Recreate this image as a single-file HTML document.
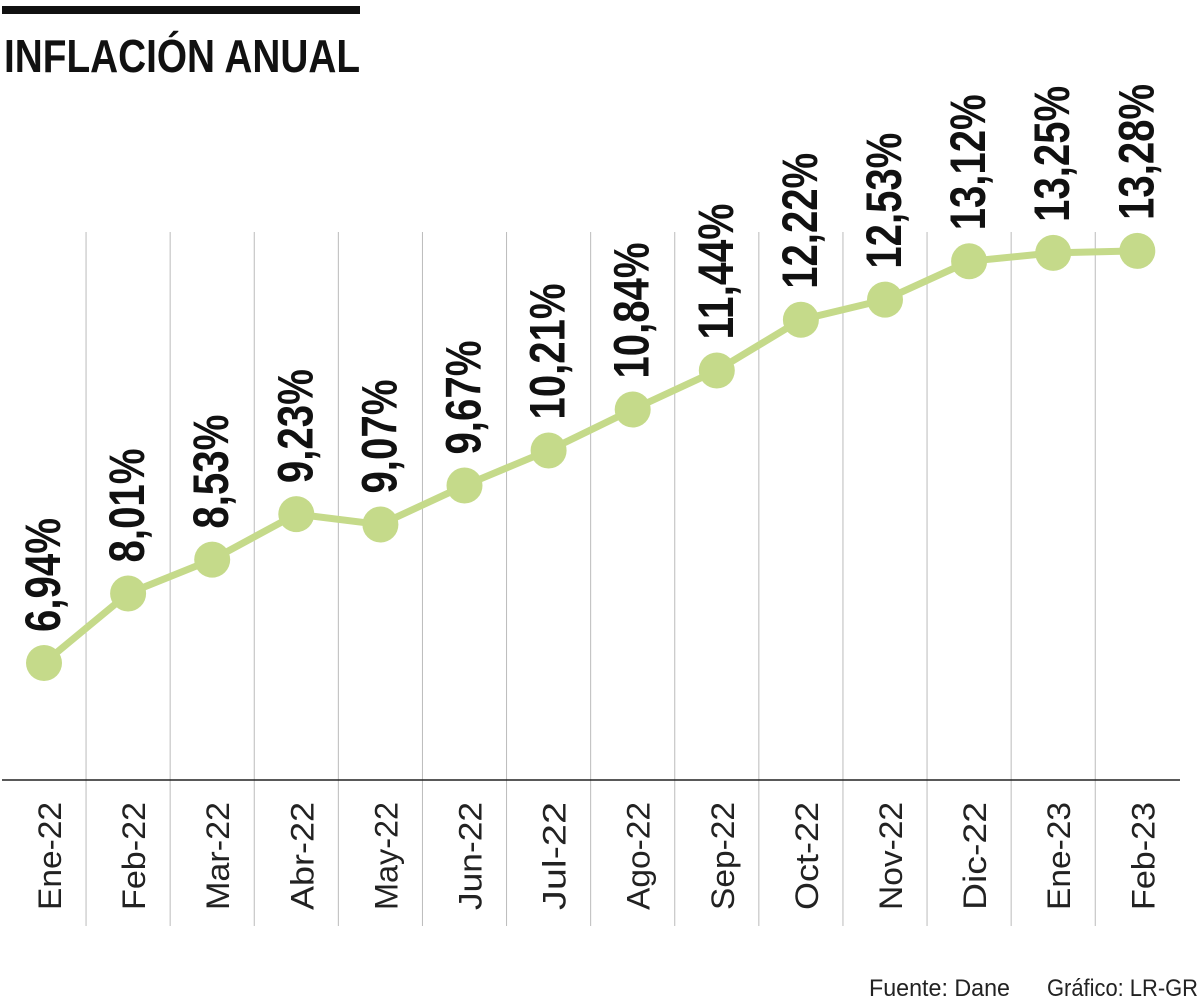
<!DOCTYPE html>
<html><head><meta charset="utf-8"><style>
html,body{margin:0;padding:0;background:#fff;}
svg{display:block;font-family:"Liberation Sans",sans-serif;}
</style></head><body>
<svg id="chart" width="1200" height="1001" viewBox="0 0 1200 1001">
<rect x="2" y="6" width="358" height="8" fill="#111"/>
<text x="4" y="72" font-size="46" font-weight="bold" fill="#111" textLength="356" lengthAdjust="spacingAndGlyphs">INFLACIÓN ANUAL</text>
<g id="grid"></g>
<line x1="2" y1="780" x2="1180" y2="780" stroke="#222" stroke-width="1.5"/>
<g id="series"></g>
<g id="labels"></g>
<text x="869" y="996" font-size="24" fill="#222" textLength="141" lengthAdjust="spacingAndGlyphs">Fuente: Dane</text>
<text x="1047" y="996" font-size="24" fill="#222" textLength="151" lengthAdjust="spacingAndGlyphs">Gráfico: LR-GR</text>
</svg>
<script>
const categories = ["Ene-22","Feb-22","Mar-22","Abr-22","May-22","Jun-22","Jul-22","Ago-22","Sep-22","Oct-22","Nov-22","Dic-22","Ene-23","Feb-23"];
const values = [6.94,8.01,8.53,9.23,9.07,9.67,10.21,10.84,11.44,12.22,12.53,13.12,13.25,13.28];
const valueLabels = ["6,94%","8,01%","8,53%","9,23%","9,07%","9,67%","10,21%","10,84%","11,44%","12,22%","12,53%","13,12%","13,25%","13,28%"];

const NS = "http://www.w3.org/2000/svg";
const x0 = 44, step = 84.1;
function xScale(i){ return x0 + i*step; }
function yScale(v){ return 663 - (v - 6.94)*65; }
function mk(tag, attrs){ const e=document.createElementNS(NS,tag); for(const k in attrs) e.setAttribute(k, attrs[k]); return e; }

const grid = document.getElementById('grid');
for(let i=0;i<categories.length-1;i++){
  const gx = xScale(i) + step/2;
  const l = mk('line',{x1:gx,y1:232,x2:gx,y2:926,stroke:'#bbb','stroke-width':1});
  
  
  grid.appendChild(l);
}

const series = document.getElementById('series');
const pts = values.map((v,i)=>xScale(i)+','+yScale(v)).join(' ');
const line = mk('polyline',{points:pts,fill:'none',stroke:'#c5da8a','stroke-width':7,'stroke-linejoin':'round'});


series.appendChild(line);
values.forEach((v,i)=>{
  const c = mk('circle',{cx:xScale(i),cy:yScale(v),r:18,fill:'#c5da8a'});
  
  
  series.appendChild(c);
});

const labels = document.getElementById('labels');
function labLen(s){ let n=0; for(const ch of s){ if(ch===',') n+=10; else if(ch==='%') n+=38; else n+=22; } return n; }
values.forEach((v,i)=>{
  const cx = xScale(i)+16, by = yScale(v)-31;
  const t = mk('text',{x:0,y:0,'font-size':50,'font-weight':'bold',fill:'#111',textLength:labLen(valueLabels[i]),lengthAdjust:'spacingAndGlyphs',transform:`translate(${cx},${by}) rotate(-90)`});
  t.textContent = valueLabels[i];
  
  
  labels.appendChild(t);
  const m = mk('text',{x:0,y:0,'font-size':32,fill:'#222',textLength:108,lengthAdjust:'spacingAndGlyphs',transform:`translate(${xScale(i)+17},910) rotate(-90)`});
  m.textContent = categories[i];
  
  
  labels.appendChild(m);
});
</script>
</body></html>
